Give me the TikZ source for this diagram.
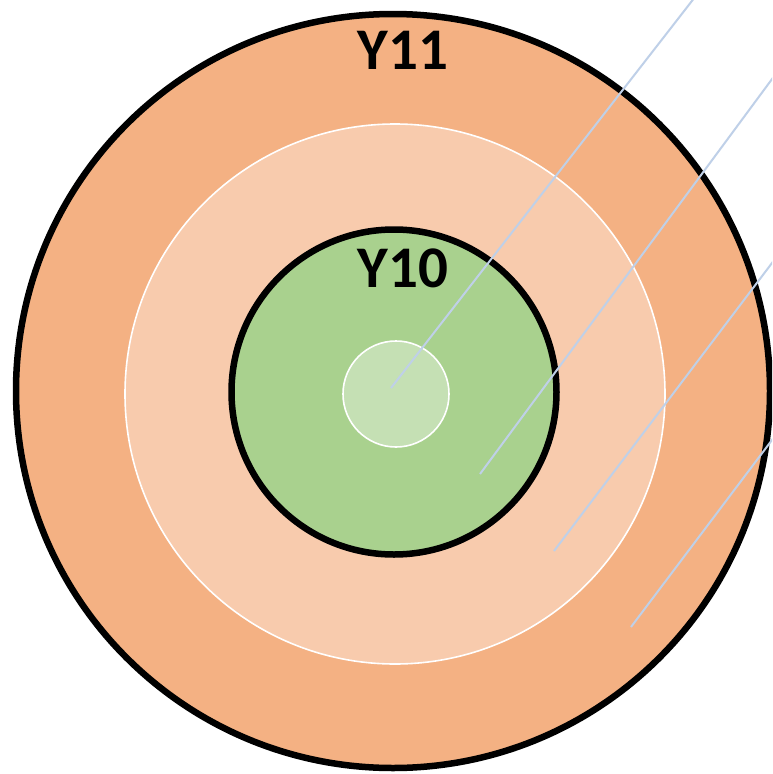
\documentclass[tikz,border=0pt]{standalone}
\usepackage{fontspec}
\setmainfont{Carlito}
\definecolor{outerOrange}{HTML}{F4B183}
\definecolor{midOrange}{HTML}{F8CBAD}
\definecolor{greenFill}{HTML}{A9D18E}
\definecolor{innerGreen}{HTML}{C5E0B4}
\definecolor{lineBlue}{HTML}{BFD0E8}
\tikzset{
  blackring/.style={draw=black, line width=6.5pt},
  whitering/.style={draw=white, line width=1.6pt},
  ray/.style={draw=lineBlue, line width=2pt},
  label/.style={font=\bfseries\fontsize{59}{61}\selectfont, text=black, inner sep=0pt}
}
\begin{document}
\begin{tikzpicture}[x=1pt,y=-1pt]
\useasboundingbox (0,0) rectangle (772,774);
\clip (0,0) rectangle (772,774);
\fill[white] (0,0) rectangle (772,774);
% outer circle
\filldraw[fill=outerOrange, blackring] (393,391) circle (377);
% middle circle
\filldraw[fill=midOrange, whitering] (395,394) circle (270);
% green circle
\filldraw[fill=greenFill, blackring] (394,392) circle (162.5);
% inner circle
\filldraw[fill=innerGreen, whitering] (396,394) circle (53);
% rays
\coordinate (r1a) at (391,388); \coordinate (r1b) at (695,-3);
\coordinate (r2a) at (480,474); \coordinate (r2b) at (775,75);
\coordinate (r3a) at (554,551); \coordinate (r3b) at (775,259);
\coordinate (r4a) at (631,627); \coordinate (r4b) at (775,436);
\draw[ray] (r1a) -- (r1b);
\draw[ray] (r2a) -- (r2b);
\draw[ray] (r3a) -- (r3b);
\draw[ray] (r4a) -- (r4b);
% labels
\node[label] (y11) at (403,50) {Y11};
\node[label] (y10) at (403,268) {Y10};
\end{tikzpicture}
\end{document}
